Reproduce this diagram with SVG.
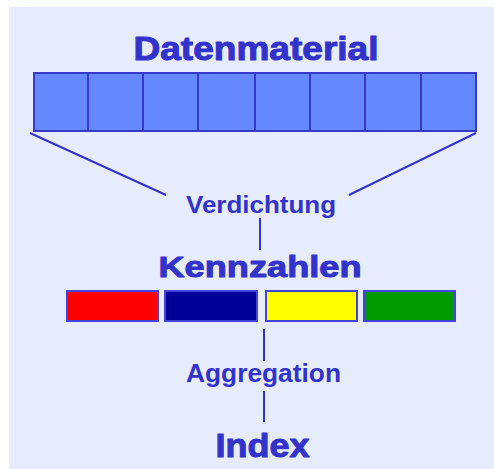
<svg xmlns="http://www.w3.org/2000/svg" width="494" height="469" viewBox="0 0 494 469">
<style>
.t{font-family:"Liberation Sans",Arial,sans-serif;font-weight:bold;fill:#3333CC}
.h{stroke:#3333CC;stroke-width:1;stroke-linejoin:round}
.cell{fill:#6688FF;stroke:#3838CC;stroke-width:2}
.kz{stroke:#4444DD;stroke-width:2}
.ln{stroke:#3333CC;stroke-width:2;fill:none}
</style>
<rect x="9" y="7" width="485" height="462" fill="#E6ECFC"/>
<g id="datenmaterial">
<text class="t h" x="133.5" y="60" font-size="32.5" textLength="245" lengthAdjust="spacingAndGlyphs">Datenmaterial</text>
<rect class="cell" x="34" y="73" width="54" height="58"/>
<rect class="cell" x="88" y="73" width="55" height="58"/>
<rect class="cell" x="143" y="73" width="55" height="58"/>
<rect class="cell" x="198" y="73" width="57" height="58"/>
<rect class="cell" x="255" y="73" width="55" height="58"/>
<rect class="cell" x="310" y="73" width="55" height="58"/>
<rect class="cell" x="365" y="73" width="56" height="58"/>
<rect class="cell" x="421" y="73" width="55" height="58"/>
</g>
<g id="verdichtung">
<text class="t" x="186" y="213" font-size="24" textLength="150" lengthAdjust="spacingAndGlyphs">Verdichtung</text>
</g>
<g id="kennzahlen">
<text class="t h" x="158.5" y="277" font-size="30" textLength="203" lengthAdjust="spacingAndGlyphs">Kennzahlen</text>
<rect class="kz" x="67" y="291" width="91" height="30" fill="#FF0000"/>
<rect class="kz" x="165" y="291" width="92" height="30" fill="#000099"/>
<rect class="kz" x="266" y="291" width="91" height="30" fill="#FFFF00"/>
<rect class="kz" x="364" y="291" width="91" height="30" fill="#009900"/>
</g>
<g id="aggregation">
<text class="t" x="186" y="382" font-size="26" textLength="155" lengthAdjust="spacingAndGlyphs">Aggregation</text>
</g>
<g id="index">
<text class="t h" x="215.5" y="457" font-size="33" textLength="94" lengthAdjust="spacingAndGlyphs">Index</text>
</g>
<g id="connectors">
<line class="ln" x1="30" y1="133" x2="166" y2="195"/>
<line class="ln" x1="476" y1="133" x2="349" y2="195"/>
<line class="ln" x1="260" y1="218" x2="260" y2="250"/>
<line class="ln" x1="264" y1="329" x2="264" y2="361"/>
<line class="ln" x1="264" y1="391" x2="264" y2="422"/>
</g>
</svg>
